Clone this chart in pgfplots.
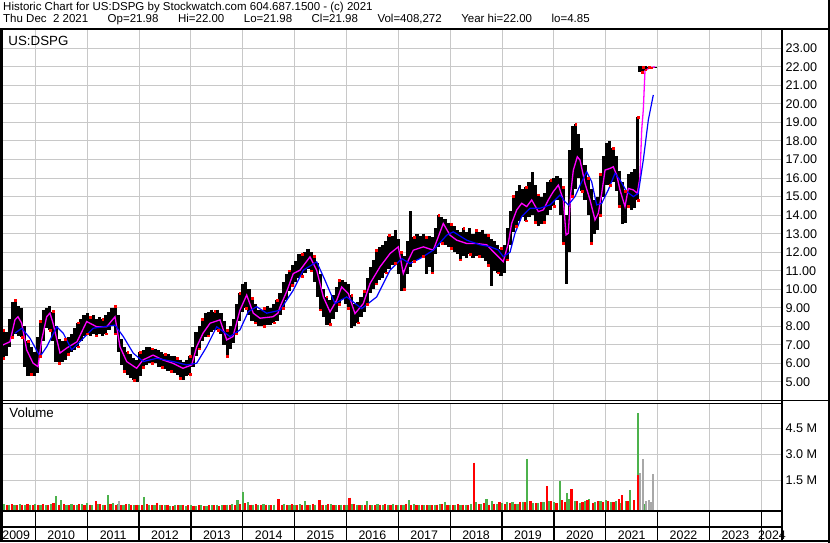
\documentclass[border=0pt]{standalone}
\usepackage{fontspec}
\setmainfont{Liberation Sans}
\usepackage{pgfplots}
\usepackage{pgfplotstable}
\pgfplotsset{compat=1.18}
\definecolor{gridc}{RGB}{200,200,200}
\definecolor{volgreen}{RGB}{76,178,76}
\definecolor{volgray}{RGB}{168,168,168}
\definecolor{mag}{RGB}{255,0,255}

% daily range (high / low), sampled
\pgfplotstableread{
t hi lo
2009.38 7.8 6.3
2009.44 7.7 6.4
2009.50 8.4 6.9
2009.56 9.3 7.4
2009.62 9.4 7.6
2009.68 9.1 7.5
2009.74 9.0 7.4
2009.80 8.0 5.8
2009.86 7.2 5.3
2009.92 6.9 5.4
2009.98 6.6 5.3
2010.04 7.4 5.5
2010.10 8.3 6.4
2010.16 8.9 7.2
2010.22 9.0 7.9
2010.28 9.1 7.8
2010.34 8.8 7.2
2010.40 8.0 6.1
2010.46 7.3 6.0
2010.52 7.2 6.1
2010.58 7.3 6.2
2010.64 7.4 6.5
2010.70 7.6 6.6
2010.76 7.9 6.7
2010.82 8.2 6.9
2010.88 8.4 7.2
2010.94 8.6 7.5
2011.00 8.7 7.6
2011.06 8.5 7.5
2011.12 8.6 7.6
2011.18 8.4 7.5
2011.24 8.5 7.6
2011.30 8.4 7.5
2011.36 8.6 7.6
2011.42 8.8 7.8
2011.48 9.0 8.0
2011.54 9.1 7.6
2011.60 8.6 6.6
2011.66 7.3 5.9
2011.72 6.9 5.6
2011.78 6.6 5.4
2011.84 6.5 5.2
2011.90 6.3 5.1
2011.96 6.2 5.0
2012.02 6.6 5.3
2012.08 6.7 5.8
2012.14 6.9 5.9
2012.20 6.9 6.0
2012.26 6.8 6.0
2012.32 6.8 6.0
2012.38 6.7 5.8
2012.44 6.6 5.8
2012.50 6.5 5.7
2012.56 6.5 5.6
2012.62 6.4 5.6
2012.68 6.4 5.5
2012.74 6.3 5.4
2012.80 6.2 5.2
2012.86 6.1 5.1
2012.92 6.2 5.3
2012.98 6.4 5.4
2013.04 6.9 5.8
2013.10 7.7 6.4
2013.16 8.0 6.8
2013.22 8.4 7.2
2013.28 8.7 7.4
2013.34 8.8 7.5
2013.40 8.9 7.7
2013.46 8.8 7.8
2013.52 8.9 7.8
2013.58 8.7 7.6
2013.64 8.3 7.0
2013.70 7.8 6.4
2013.76 8.0 6.8
2013.82 8.4 7.1
2013.88 9.2 7.6
2013.94 9.8 8.3
2014.00 10.3 8.8
2014.06 10.4 9.0
2014.12 10.0 8.6
2014.18 9.5 8.3
2014.24 9.2 8.2
2014.30 8.9 8.0
2014.36 8.9 8.0
2014.42 9.0 8.0
2014.48 9.1 8.1
2014.54 9.0 8.1
2014.60 9.2 8.2
2014.66 9.4 8.3
2014.72 9.8 8.6
2014.78 10.4 9.0
2014.84 10.8 9.4
2014.90 11.0 9.9
2014.96 11.3 10.2
2015.02 11.5 10.4
2015.08 11.9 10.6
2015.14 11.9 10.7
2015.20 12.0 10.9
2015.26 12.2 11.1
2015.32 12.0 11.0
2015.38 11.8 10.4
2015.44 11.4 9.6
2015.50 10.8 8.9
2015.56 10.0 8.5
2015.62 9.6 8.1
2015.68 9.4 8.1
2015.74 9.7 8.4
2015.80 10.1 8.8
2015.86 10.5 9.2
2015.92 10.5 9.5
2015.98 10.4 9.2
2016.04 10.3 9.0
2016.10 9.7 7.9
2016.16 9.2 8.0
2016.22 9.3 8.2
2016.28 9.6 8.5
2016.34 9.9 8.8
2016.40 10.6 9.2
2016.46 11.2 9.8
2016.52 11.6 10.0
2016.58 12.1 10.3
2016.64 12.3 10.5
2016.70 12.4 10.6
2016.76 12.6 10.9
2016.82 12.9 11.1
2016.88 12.9 11.3
2016.94 13.2 11.4
2017.00 12.7 10.8
2017.06 12.0 9.9
2017.12 11.8 10.0
2017.18 12.6 10.8
2017.24 14.2 11.2
2017.30 12.8 11.5
2017.36 13.0 11.6
2017.42 12.9 11.7
2017.48 13.0 11.8
2017.54 12.8 10.8
2017.60 12.9 11.2
2017.66 12.8 10.9
2017.72 13.3 11.9
2017.78 14.0 12.3
2017.84 13.9 12.5
2017.90 13.8 12.4
2017.96 13.6 12.3
2018.02 13.5 12.2
2018.08 13.4 12.0
2018.14 13.2 11.9
2018.20 13.1 11.6
2018.26 13.3 11.8
2018.32 13.1 11.7
2018.38 13.3 11.9
2018.44 13.0 11.7
2018.50 13.2 11.8
2018.56 13.1 11.8
2018.62 13.2 11.7
2018.68 13.0 11.5
2018.74 12.9 11.3
2018.80 12.7 10.2
2018.86 12.6 11.0
2018.92 12.4 10.9
2018.98 12.2 10.7
2019.04 12.4 10.9
2019.10 13.3 11.6
2019.16 14.2 12.4
2019.22 15.0 13.1
2019.28 15.3 13.4
2019.34 15.6 13.7
2019.40 15.4 13.9
2019.46 15.5 13.7
2019.52 15.8 13.9
2019.58 16.3 14.0
2019.64 15.6 13.6
2019.70 15.1 13.4
2019.76 15.0 13.5
2019.82 15.2 13.6
2019.88 15.8 14.0
2019.94 15.9 14.3
2020.00 16.0 14.5
2020.06 16.1 14.8
2020.12 16.0 14.0
2020.18 15.5 12.5
2020.24 14.0 10.3
2020.30 17.5 12.0
2020.36 18.8 15.0
2020.42 18.9 15.4
2020.48 18.4 16.0
2020.54 17.6 15.3
2020.60 16.7 14.8
2020.66 16.0 14.0
2020.72 15.4 12.5
2020.78 14.8 13.0
2020.84 15.0 13.2
2020.90 16.2 14.0
2020.96 17.2 15.0
2021.02 17.9 15.6
2021.08 18.0 15.6
2021.14 17.6 15.8
2021.20 17.2 15.3
2021.26 16.4 14.5
2021.32 15.8 13.5
2021.38 15.3 13.6
2021.44 16.2 14.5
2021.50 16.3 14.3
2021.56 16.5 14.4
2021.62 19.3 14.8
2021.66 22.05 21.70
2021.68 22.00 21.70
2021.70 21.95 21.72
2021.72 22.00 21.80
2021.74 21.98 21.75
2021.77 22.02 21.85
2021.80 22.00 21.90
2021.84 22.00 21.93
2021.88 22.00 21.95
2021.92 22.00 21.96
2021.95 22.00 21.98
}\pricetab

% short moving average (magenta)
\pgfplotstableread{
t m
2009.377 7.00
2009.512 7.17
2009.608 8.35
2009.666 8.52
2009.738 8.17
2009.834 6.73
2009.956 6.02
2010.052 5.83
2010.123 7.27
2010.220 8.52
2010.283 8.72
2010.341 8.18
2010.476 6.56
2010.605 6.83
2010.804 7.17
2010.991 8.26
2011.184 7.98
2011.377 7.98
2011.537 8.52
2011.633 6.90
2011.763 6.10
2011.955 5.74
2012.077 6.19
2012.270 6.45
2012.462 6.19
2012.655 6.01
2012.848 5.74
2013.016 5.92
2013.112 6.90
2013.234 7.63
2013.369 8.17
2013.562 8.35
2013.691 7.27
2013.812 7.45
2013.947 8.88
2014.076 9.69
2014.204 8.71
2014.333 8.44
2014.584 8.52
2014.680 8.72
2014.719 9.05
2014.850 9.90
2014.975 10.85
2015.104 11.03
2015.297 11.75
2015.426 11.03
2015.554 9.59
2015.683 8.78
2015.812 9.41
2015.908 10.13
2016.036 9.77
2016.165 8.69
2016.325 9.23
2016.454 10.31
2016.647 11.21
2016.840 11.93
2017.000 12.29
2017.096 10.85
2017.193 11.57
2017.289 12.11
2017.482 12.29
2017.675 12.11
2017.867 13.55
2017.997 12.92
2018.126 12.65
2018.319 12.47
2018.511 12.47
2018.704 12.40
2018.831 12.03
2018.928 11.76
2019.024 11.49
2019.121 12.48
2019.186 13.56
2019.283 14.28
2019.379 14.64
2019.476 14.46
2019.572 14.82
2019.700 14.19
2019.796 14.28
2019.893 14.82
2019.989 15.27
2020.086 15.62
2020.182 14.82
2020.234 12.93
2020.278 13.02
2020.325 15.18
2020.375 16.43
2020.452 17.15
2020.504 16.97
2020.600 15.71
2020.697 14.82
2020.793 13.74
2020.857 14.10
2020.922 15.18
2020.986 16.43
2021.082 16.52
2021.146 16.61
2021.211 16.16
2021.275 15.36
2021.371 14.46
2021.435 15.44
2021.532 15.36
2021.609 15.18
2021.661 16.07
2021.693 18.59
2021.724 19.67
2021.757 21.80
2021.853 21.95
2021.950 22.00
}\matab

% long moving average (blue)
\pgfplotstableread{
t m
2009.608 7.63
2009.738 7.90
2009.898 7.36
2010.091 6.37
2010.220 6.90
2010.413 7.98
2010.540 7.63
2010.702 6.73
2010.895 7.27
2011.118 7.90
2011.311 7.98
2011.537 8.07
2011.697 7.45
2011.890 6.55
2012.083 6.10
2012.341 6.28
2012.661 6.10
2012.919 5.92
2013.112 6.01
2013.305 6.90
2013.498 7.98
2013.754 7.45
2013.947 7.81
2014.107 8.79
2014.269 9.06
2014.462 8.71
2014.719 8.87
2014.975 9.95
2015.168 11.03
2015.426 11.48
2015.586 10.49
2015.779 9.23
2016.005 9.59
2016.294 8.96
2016.583 9.59
2016.840 11.03
2017.065 11.66
2017.225 11.39
2017.418 11.66
2017.675 12.11
2017.933 12.92
2018.060 13.10
2018.319 12.65
2018.575 12.40
2018.768 12.30
2018.928 12.12
2019.024 11.76
2019.154 12.00
2019.250 13.02
2019.379 13.92
2019.539 14.37
2019.732 14.37
2019.925 14.55
2020.118 15.09
2020.214 14.73
2020.278 14.55
2020.407 15.00
2020.536 15.80
2020.632 16.34
2020.729 15.80
2020.825 14.55
2020.922 14.64
2021.049 15.36
2021.178 16.25
2021.275 15.90
2021.404 15.27
2021.532 15.00
2021.628 15.18
2021.724 16.97
2021.821 19.13
2021.917 20.48
}\mbtab

% volume (millions), up days
\pgfplotstableread{
t v
2009.40 0.12
2009.50 0.10
2009.60 0.08
2009.70 0.14
2009.80 0.06
2009.90 0.10
2010.00 0.16
2010.10 0.08
2010.20 0.05
2010.30 0.12
2010.40 0.59
2010.50 0.36
2010.60 0.10
2010.70 0.14
2010.80 0.08
2010.90 0.12
2011.00 0.18
2011.10 0.06
2011.20 0.12
2011.30 0.10
2011.40 0.65
2011.50 0.20
2011.60 0.16
2011.70 0.08
2011.80 0.12
2011.90 0.06
2012.00 0.10
2012.10 0.54
2012.20 0.08
2012.30 0.05
2012.40 0.10
2012.50 0.06
2012.60 0.04
2012.70 0.08
2012.80 0.05
2012.90 0.03
2013.00 0.10
2013.10 0.04
2013.20 0.06
2013.30 0.03
2013.40 0.05
2013.50 0.08
2013.60 0.05
2013.70 0.10
2013.80 0.12
2013.90 0.36
2014.00 0.84
2014.10 0.25
2014.20 0.10
2014.30 0.08
2014.40 0.12
2014.50 0.06
2014.60 0.10
2014.70 0.08
2014.80 0.14
2014.90 0.10
2015.00 0.06
2015.10 0.12
2015.20 0.28
2015.30 0.08
2015.40 0.10
2015.50 0.05
2015.60 0.08
2015.70 0.12
2015.80 0.06
2015.90 0.10
2016.00 0.08
2016.10 0.12
2016.20 0.05
2016.30 0.10
2016.40 0.28
2016.50 0.08
2016.60 0.12
2016.70 0.06
2016.80 0.10
2016.90 0.14
2017.00 0.08
2017.10 0.10
2017.20 0.36
2017.30 0.12
2017.40 0.08
2017.50 0.06
2017.60 0.10
2017.70 0.08
2017.80 0.12
2017.90 0.25
2018.00 0.10
2018.10 0.08
2018.20 0.06
2018.30 0.10
2018.40 0.14
2018.50 0.24
2018.60 0.12
2018.70 0.40
2018.80 0.31
2018.90 0.12
2019.00 0.18
2019.10 0.26
2019.20 0.22
2019.30 0.16
2019.40 0.25
2019.48 2.73
2019.60 0.18
2019.70 0.20
2019.80 0.24
2019.90 0.30
2020.00 0.22
2020.12 1.46
2020.25 0.75
2020.30 0.40
2020.40 0.28
2020.50 0.20
2020.60 0.30
2020.68 0.40
2020.80 0.22
2020.90 0.28
2021.00 0.35
2021.10 0.24
2021.20 0.30
2021.30 0.20
2021.40 0.30
2021.47 0.94
2021.625 5.37
2021.76 0.12
}\volup

% volume (millions), down days
\pgfplotstableread{
t v
2009.45 0.08
2009.55 0.12
2009.65 0.06
2009.75 0.10
2009.85 0.14
2009.95 0.05
2010.05 0.10
2010.15 0.12
2010.25 0.08
2010.35 0.18
2010.45 0.10
2010.55 0.14
2010.65 0.06
2010.75 0.10
2010.85 0.12
2010.95 0.08
2011.05 0.10
2011.17 0.30
2011.25 0.12
2011.35 0.08
2011.45 0.14
2011.55 0.10
2011.65 0.06
2011.75 0.12
2011.85 0.08
2011.95 0.10
2012.05 0.06
2012.15 0.12
2012.25 0.08
2012.35 0.20
2012.45 0.06
2012.55 0.10
2012.65 0.04
2012.75 0.06
2012.85 0.08
2012.95 0.05
2013.05 0.04
2013.15 0.06
2013.25 0.03
2013.35 0.08
2013.45 0.05
2013.55 0.04
2013.65 0.06
2013.75 0.08
2013.85 0.05
2013.95 0.12
2014.05 0.18
2014.15 0.10
2014.25 0.14
2014.35 0.08
2014.45 0.10
2014.55 0.06
2014.69 0.42
2014.75 0.10
2014.85 0.08
2014.95 0.12
2015.05 0.06
2015.15 0.10
2015.25 0.08
2015.35 0.14
2015.48 0.36
2015.55 0.10
2015.65 0.12
2015.75 0.06
2015.85 0.08
2015.95 0.10
2016.06 0.50
2016.15 0.12
2016.25 0.06
2016.35 0.10
2016.45 0.08
2016.55 0.05
2016.65 0.10
2016.75 0.12
2016.85 0.06
2016.95 0.08
2017.05 0.10
2017.15 0.14
2017.25 0.08
2017.35 0.06
2017.45 0.10
2017.55 0.08
2017.65 0.05
2017.75 0.10
2017.85 0.14
2017.95 0.08
2018.05 0.06
2018.15 0.12
2018.25 0.10
2018.35 0.08
2018.46 2.52
2018.55 0.12
2018.65 0.18
2018.75 0.10
2018.85 0.14
2018.95 0.25
2019.05 0.12
2019.15 0.20
2019.25 0.16
2019.35 0.26
2019.45 0.22
2019.55 0.30
2019.65 0.18
2019.75 0.24
2019.86 1.17
2019.95 0.28
2020.05 0.20
2020.15 0.34
2020.22 0.26
2020.34 1.00
2020.45 0.30
2020.55 0.24
2020.65 0.36
2020.75 0.20
2020.85 0.28
2020.95 0.22
2021.05 0.30
2021.15 0.26
2021.25 0.40
2021.32 0.65
2021.42 0.28
2021.55 0.34
2021.625 1.80
2021.665 1.13
}\voldown

% volume (millions), unchanged days
\pgfplotstableread{
t v
2011.61 0.31
2021.655 1.90
2021.725 2.70
2021.77 0.30
2021.83 0.35
2021.87 0.22
2021.905 1.86
}\volflat

\pgfplotsset{
  chartbase/.style={
    scale only axis, width=780bp, anchor=south west,
    xmin=2009.358, xmax=2024.399,
    axis line style={draw=none},
    major tick length=0pt, minor tick length=0pt,
    grid style={gridc, line width=1bp},
    tick label style={font=\fontsize{12.6bp}{14bp}\selectfont},
    /pgf/number format/assume math mode=true,
  },
  rangebars/.style={draw=none, forget plot,
    error bars/.cd, y dir=minus, y explicit, error mark=none,
    error bar style={draw=#1, line width=3.15bp}},
  volbars/.style={draw=none, forget plot,
    error bars/.cd, y dir=minus, y explicit, error mark=none,
    error bar style={draw=#1, line width=2.2bp}},
}

\begin{document}
\begin{tikzpicture}[x=1bp,y=1bp]
\path[use as bounding box] (0,0) rectangle (830,543);

% ---------------- price panel ----------------
\begin{axis}[chartbase, at={(2bp,142bp)}, height=371bp,
  ymin=3.975, ymax=23.987,
  xtick={2010,2011,2012,2013,2014,2015,2016,2017,2018,2019,2020,2021,2022,2023,2024},
  xticklabels={}, xmajorgrids,
  ytick={5,6,7,8,9,10,11,12,13,14,15,16,17,18,19,20,21,22,23},
  yticklabels={5.00,6.00,7.00,8.00,9.00,10.00,11.00,12.00,13.00,14.00,15.00,16.00,17.00,18.00,19.00,20.00,21.00,22.00,23.00},
  ymajorgrids, yticklabel pos=right,
  yticklabel style={anchor=west},
]
\addplot[rangebars=black] table[x=t, y=hi, y error minus expr=\thisrow{hi}-\thisrow{lo}] {\pricetab};
\addplot[only marks, mark=square*, mark size=0.9bp, red, each nth point=3] table[x=t, y=lo] {\pricetab};
\addplot[only marks, mark=square*, mark size=0.9bp, red, each nth point=4] table[x=t, y=hi] {\pricetab};
\addplot[mag, line width=1.3bp] table[x=t, y=m] {\matab};
\addplot[blue, line width=1.2bp] table[x=t, y=m] {\mbtab};
\end{axis}

% ---------------- volume panel ----------------
\begin{axis}[chartbase, at={(2bp,33bp)}, height=106bp,
  ymin=-0.213, ymax=5.902,
  xtick={2010,2011,2012,2013,2014,2015,2016,2017,2018,2019,2020,2021,2022,2023,2024},
  xticklabels={}, xmajorgrids,
  ytick={1.5,3,4.5}, yticklabels={1.5 M,3.0 M,4.5 M},
  ymajorgrids, yticklabel pos=right,
  yticklabel style={anchor=west},
]
\addplot[volbars=volgreen] table[x=t, y=v, y error minus expr=\thisrow{v}+1] {\volup};
\addplot[volbars=red] table[x=t, y=v, y error minus expr=\thisrow{v}+1] {\voldown};
\addplot[volbars=volgray] table[x=t, y=v, y error minus expr=\thisrow{v}+1] {\volflat};
\end{axis}

% ---------------- year strip ----------------
\begin{axis}[chartbase, at={(2bp,2bp)}, height=30bp,
  ymin=0, ymax=1, ytick=\empty,
  xtick={2009.632,2010.5,2011.5,2012.5,2013.5,2014.5,2015.5,2016.5,2017.5,2018.5,2019.5,2020.5,2021.5,2022.5,2023.5,2024.206},
  xticklabels={2009,2010,2011,2012,2013,2014,2015,2016,2017,2018,2019,2020,2021,2022,2023,2024},
  minor xtick={2010,2011,2012,2013,2014,2015,2016,2017,2018,2019,2020,2021,2022,2023,2024},
  xminorgrids, minor x grid style={black, line width=1.3bp},
  xticklabel style={anchor=base, yshift=1.8bp, font=\fontsize{12.4bp}{14bp}\selectfont},
]
\end{axis}

% ---------------- frame ----------------
\draw[line width=2bp] (0,514) -- (830,514);
\draw[line width=1.6bp] (0,142.3) -- (830,142.3);
\draw[line width=1.2bp] (0,139.8) -- (782,139.8);
\draw[line width=1.7bp] (0,32.2) -- (782,32.2);
\draw[line width=1.5bp] (0,16.2) -- (782,16.2);
\draw[line width=2bp] (0,1.8) -- (830,1.8);
\draw[line width=2.6bp] (1.3,1) -- (1.3,515);
\draw[line width=1.8bp] (782,1) -- (782,515);
\draw[line width=2bp] (829,0) -- (829,543);

% ---------------- texts ----------------
\node[anchor=base west, inner sep=0pt, font=\fontsize{11.5bp}{13bp}\selectfont] at (3,532)
  {Historic Chart for US:DSPG by Stockwatch.com 604.687.1500 - (c) 2021};
\node[anchor=base west, inner sep=0pt, font=\fontsize{11.5bp}{13bp}\selectfont] at (3,520)
  {Thu Dec\ \ 2 2021\hspace{19.5bp}Op=21.98\hspace{19.5bp}Hi=22.00\hspace{19.5bp}Lo=21.98\hspace{19.5bp}Cl=21.98\hspace{19.5bp}Vol=408,272\hspace{19.5bp}Year hi=22.00\hspace{19.5bp}lo=4.85};
\node[anchor=base west, inner sep=0pt, font=\fontsize{13.3bp}{15bp}\selectfont] at (8.3,497) {US:DSPG};
\node[anchor=base west, inner sep=0pt, font=\fontsize{13.3bp}{15bp}\selectfont] at (9.3,125) {Volume};
\end{tikzpicture}
\end{document}
